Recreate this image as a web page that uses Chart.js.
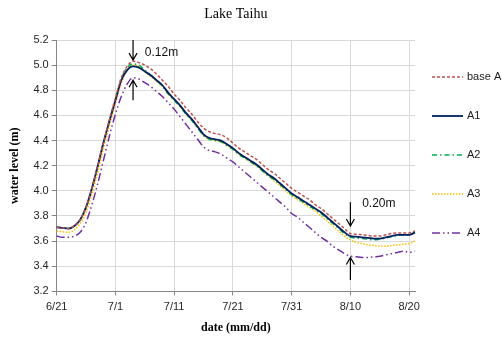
<!DOCTYPE html>
<html>
<head>
<meta charset="utf-8">
<script src="https://cdn.jsdelivr.net/npm/chart.js@4.4.0/dist/chart.umd.min.js"></script>
<style>
html, body { margin: 0; padding: 0; background: #fff; }
#wrap { width: 502px; height: 337px; }
</style>
</head>
<body>
<div id="wrap"><canvas id="lakeChart"></canvas></div>
<script>
// dates, 6/21 .. 8/21
var dates = ['6/21','6/22','6/23','6/24','6/25','6/26','6/27','6/28','6/29','6/30',
    '7/1','7/2','7/3','7/4','7/5','7/6','7/7','7/8','7/9','7/10',
    '7/11','7/12','7/13','7/14','7/15','7/16','7/17','7/18','7/19','7/20',
    '7/21','7/22','7/23','7/24','7/25','7/26','7/27','7/28','7/29','7/30',
    '7/31','8/1','8/2','8/3','8/4','8/5','8/6','8/7','8/8','8/9',
    '8/10','8/11','8/12','8/13','8/14','8/15','8/16','8/17','8/18','8/19',
    '8/20','8/21'];
var tickDates = ['6/21','7/1','7/11','7/21','7/31','8/10','8/20'];

var seriesNames = ['base A', 'A1', 'A2', 'A3', 'A4'];

var baseA = [3.71,3.705,3.70,3.72,3.77,3.87,4.02,4.20,4.39,4.57,
    4.74,4.90,4.99,5.03,5.02,5.00,4.97,4.93,4.88,4.83,
    4.77,4.72,4.66,4.61,4.55,4.50,4.47,4.455,4.445,4.42,
    4.38,4.34,4.31,4.28,4.25,4.21,4.17,4.14,4.10,4.06,
    4.02,3.99,3.96,3.93,3.89,3.86,3.82,3.78,3.74,3.70,
    3.66,3.655,3.65,3.645,3.64,3.64,3.65,3.66,3.665,3.665,
    3.665,3.68];
var a1 = [3.71,3.705,3.70,3.72,3.77,3.87,4.02,4.20,4.39,4.56,
    4.72,4.88,4.96,4.99,4.98,4.95,4.92,4.88,4.84,4.78,
    4.73,4.68,4.62,4.57,4.51,4.45,4.42,4.41,4.40,4.37,
    4.34,4.30,4.27,4.24,4.21,4.17,4.13,4.10,4.06,4.02,
    3.98,3.95,3.92,3.89,3.86,3.83,3.79,3.75,3.71,3.67,
    3.64,3.635,3.63,3.625,3.62,3.62,3.63,3.64,3.65,3.65,
    3.65,3.67];
var a2 = [3.71,3.705,3.70,3.72,3.77,3.87,4.02,4.20,4.39,4.56,
    4.73,4.89,4.98,5.01,5.00,4.96,4.92,4.88,4.83,4.77,
    4.72,4.67,4.61,4.56,4.50,4.44,4.41,4.40,4.39,4.36,
    4.33,4.29,4.26,4.23,4.20,4.16,4.12,4.09,4.05,4.01,
    3.97,3.94,3.91,3.88,3.85,3.82,3.78,3.74,3.70,3.66,
    3.63,3.625,3.62,3.615,3.61,3.615,3.625,3.635,3.645,3.65,
    3.65,3.67];
var a3 = [3.68,3.675,3.67,3.69,3.74,3.83,3.97,4.15,4.34,4.52,
    4.69,4.86,4.96,5.00,4.99,4.95,4.91,4.87,4.83,4.77,
    4.72,4.67,4.61,4.56,4.50,4.44,4.41,4.40,4.39,4.36,
    4.33,4.29,4.26,4.23,4.20,4.16,4.12,4.08,4.04,4.00,
    3.96,3.93,3.90,3.87,3.84,3.80,3.76,3.72,3.68,3.64,
    3.61,3.59,3.58,3.57,3.565,3.56,3.56,3.565,3.57,3.575,
    3.58,3.60];
var a4 = [3.64,3.63,3.63,3.64,3.67,3.75,3.89,4.06,4.25,4.44,
    4.61,4.75,4.85,4.90,4.89,4.86,4.83,4.79,4.75,4.70,
    4.65,4.59,4.53,4.47,4.41,4.35,4.32,4.31,4.29,4.26,
    4.23,4.19,4.15,4.11,4.07,4.03,3.99,3.95,3.91,3.87,
    3.82,3.79,3.75,3.71,3.67,3.63,3.60,3.56,3.53,3.50,
    3.48,3.475,3.47,3.47,3.475,3.48,3.49,3.50,3.51,3.52,
    3.51,3.52];

// arrows and notes (in data units)
var arrowDates = ['7/4', '7/4', '8/10', '8/10'];
var arrowFrom = [5.20, 4.72, 3.91, 3.29];
var arrowTo = [5.04, 4.88, 3.72, 3.47];
var noteLabels = ['0.12m', '0.20m'];
var noteDates = ['7/6', '8/12'];
var noteValues = [5.10, 3.90];

var sansFont = "'Liberation Sans', Arial, sans-serif";
var serifFont = "'Liberation Serif', 'Times New Roman', serif";

var extrasPlugin = {
    id: 'extras',
    afterDraw: function (chart) {
        var ctx = chart.ctx;
        var area = chart.chartArea;
        var xs = chart.scales.x;
        var ys = chart.scales.y;
        ctx.save();

        // title, centred over plot area
        ctx.fillStyle = '#000';
        ctx.font = '14px ' + serifFont;
        ctx.textAlign = 'center';
        ctx.textBaseline = 'middle';
        ctx.fillText('Lake Taihu', (area.left + area.right) / 2, 14);

        // arrows
        ctx.strokeStyle = '#000';
        ctx.lineWidth = 1.2;
        ctx.setLineDash([]);
        for (var i = 0; i < arrowDates.length; i++) {
            var x = xs.getPixelForValue(dates.indexOf(arrowDates[i]));
            var y0 = ys.getPixelForValue(arrowFrom[i]);
            var y1 = ys.getPixelForValue(arrowTo[i]);
            var dir = y1 > y0 ? 1 : -1;
            ctx.beginPath();
            ctx.moveTo(x, y0);
            ctx.lineTo(x, y1);
            ctx.moveTo(x - 4, y1 - dir * 7);
            ctx.lineTo(x, y1);
            ctx.lineTo(x + 4, y1 - dir * 7);
            ctx.stroke();
        }

        // notes
        ctx.font = '12px ' + sansFont;
        ctx.fillStyle = '#111';
        ctx.textAlign = 'left';
        for (var j = 0; j < noteLabels.length; j++) {
            ctx.fillText(noteLabels[j], xs.getPixelForValue(dates.indexOf(noteDates[j])),
                ys.getPixelForValue(noteValues[j]));
        }

        // legend
        var ly = area.top + 37;
        ctx.font = '11px ' + sansFont;
        ctx.fillStyle = '#222';
        chart.data.datasets.forEach(function (ds) {
            ctx.strokeStyle = ds.borderColor;
            ctx.lineWidth = ds.borderWidth;
            ctx.setLineDash(ds.borderDash || []);
            ctx.beginPath();
            ctx.moveTo(area.right + 17, ly);
            ctx.lineTo(area.right + 48, ly);
            ctx.stroke();
            ctx.fillText(ds.label, area.right + 52, ly);
            ly += 39;
        });
        ctx.restore();
    }
};

var gridColor = '#d9d9d9';
var axisColor = '#868686';

var lakeChart = new Chart(document.getElementById('lakeChart'), {
    type: 'line',
    data: {
        labels: dates,
        datasets: [
            {label: seriesNames[0], data: baseA, borderColor: '#C0504D', borderWidth: 1.5, borderDash: [3, 2]},
            {label: seriesNames[1], data: a1, borderColor: '#002060', borderWidth: 1.8},
            {label: seriesNames[2], data: a2, borderColor: '#00B050', borderWidth: 1.5, borderDash: [5, 3, 1.5, 3]},
            {label: seriesNames[3], data: a3, borderColor: '#FFC000', borderWidth: 1.5, borderDash: [1.5, 1.5]},
            {label: seriesNames[4], data: a4, borderColor: '#7030A0', borderWidth: 1.5, borderDash: [8, 3, 1.5, 3, 1.5, 3]}
        ]
    },
    options: {
        responsive: true,
        maintainAspectRatio: false,
        animation: false,
        devicePixelRatio: 1,
        layout: {padding: {top: 40, right: 87, left: 6, bottom: 0}},
        elements: {
            point: {radius: 0},
            line: {cubicInterpolationMode: 'monotone', fill: false}
        },
        plugins: {
            legend: {display: false},
            title: {display: false},
            tooltip: {enabled: false}
        },
        scales: {
            x: {
                offset: false,
                grid: {
                    color: function (c) { return tickDates.indexOf(dates[c.index]) >= 0 ? gridColor : 'rgba(0,0,0,0)'; },
                    tickColor: function (c) { return tickDates.indexOf(dates[c.index]) >= 0 ? axisColor : 'rgba(0,0,0,0)'; },
                    tickLength: 4
                },
                border: {color: axisColor},
                ticks: {
                    autoSkip: false,
                    maxRotation: 0,
                    padding: 5,
                    color: '#262626',
                    font: {family: sansFont, size: 11},
                    callback: function (v, i) { return tickDates.indexOf(dates[i]) >= 0 ? dates[i] : ''; }
                },
                title: {
                    display: true,
                    text: 'date (mm/dd)',
                    color: '#000',
                    font: {family: serifFont, size: 12, weight: 'bold'},
                    padding: {top: 2, bottom: 2}
                }
            },
            y: {
                min: 3.2,
                max: 5.2,
                grid: {color: gridColor, tickColor: axisColor, tickLength: 5},
                border: {color: axisColor},
                ticks: {
                    stepSize: 0.2,
                    padding: 3,
                    color: '#262626',
                    font: {family: sansFont, size: 11},
                    callback: function (v) { return v.toFixed(1); }
                },
                title: {
                    display: true,
                    text: 'water level (m)',
                    color: '#000',
                    font: {family: serifFont, size: 12, weight: 'bold'},
                    padding: {top: 2, bottom: 8}
                }
            }
        }
    },
    plugins: [extrasPlugin]
});
</script>
</body>
</html>
